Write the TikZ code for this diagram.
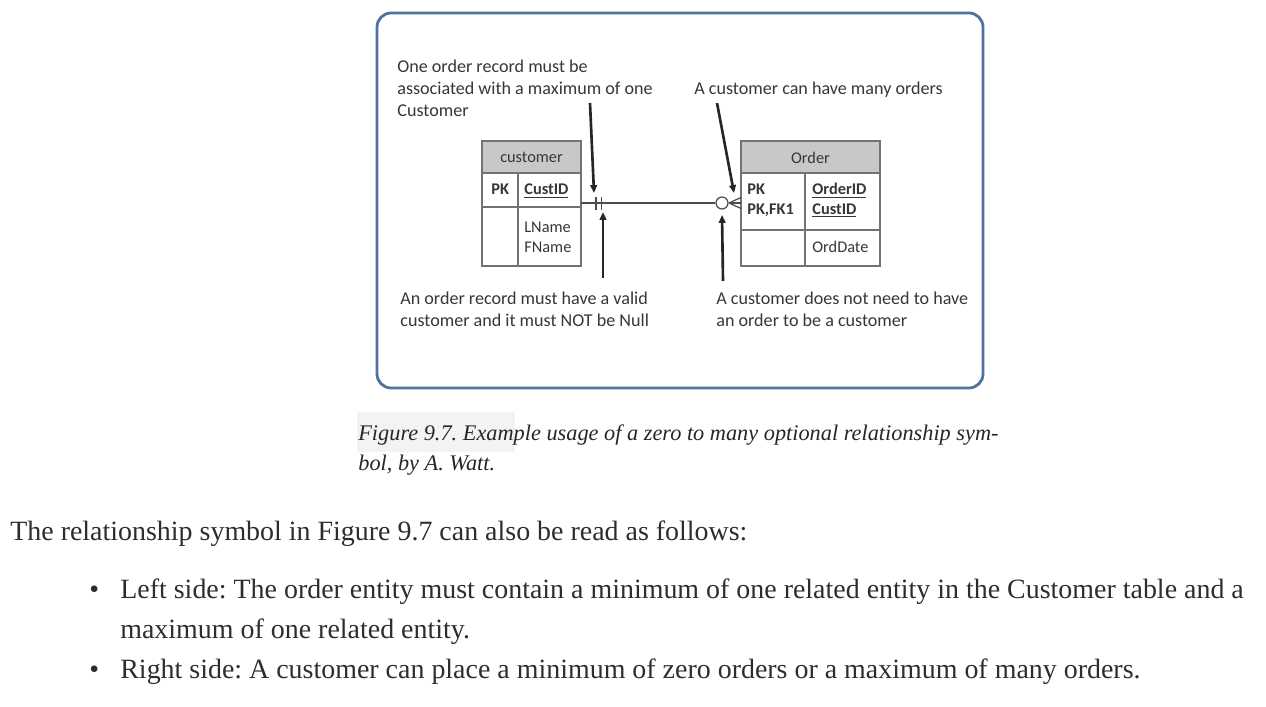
\documentclass[tikz,border=0pt]{standalone}
\usepackage{fontspec}
\setmainfont{Liberation Serif}
\newfontfamily\diagfont{Carlito}
\usetikzlibrary{arrows.meta, positioning}
\definecolor{frameblue}{RGB}{80,114,158}
\definecolor{headgray}{RGB}{200,200,200}
\definecolor{notegray}{RGB}{55,55,55}
\definecolor{capshade}{RGB}{242,243,245}
\definecolor{bodygray}{RGB}{45,45,45}
\frenchspacing

\begin{document}
\begin{tikzpicture}[x=0.02cm, y=-0.02cm,
    note/.style={font=\diagfont\fontsize{10.3}{12.5}\selectfont, text=notegray, anchor=north west, align=left, inner sep=0pt},
    cell/.style={font=\diagfont\fontsize{9.3}{11}\selectfont, text=notegray, inner sep=0pt},
    keycell/.style={cell, font=\diagfont\bfseries\fontsize{9.3}{11}\selectfont},
    tblline/.style={draw=black!55, line width=0.7pt},
    pointer/.style={black!85, line width=1.5pt, -{Triangle[length=4.5pt,width=3.8pt]}},
    relline/.style={black!70, line width=0.7pt},
    bodytext/.style={font=\fontsize{15.9}{22.7}\selectfont, text=bodygray, anchor=base west, align=left, inner sep=0pt}
  ]

  \useasboundingbox (0,0) rectangle (1266,706);

  % figure frame
  \draw[frameblue, line width=1.6pt, rounded corners=8pt, fill=white] (377,13) rectangle (983,388);

  % annotations
  \node[note] (oneMax) at (397,60) {One order record must be\\associated with a maximum of one\\Customer};
  \node[note] (manyOrd) at (694,82) {A customer can have many orders};
  \node[note] (notNull) at (400,292) {An order record must have a valid\\customer and it must NOT be Null};
  \node[note] (zeroOrd) at (716,292) {A customer does not need to have\\an order to be a customer};

  % customer table
  \fill[headgray] (482,141) rectangle (581,173);
  \draw[tblline] (482,141) rectangle (581,266);
  \draw[tblline] (482,173) -- (581,173);
  \draw[tblline] (482,207) -- (581,207);
  \draw[tblline] (518,173) -- (518,266);
  \node[cell] (custHead) at (531.5,157.5) {customer};
  \node[keycell, anchor=base west] (custPK) at (491,194.5) {PK};
  \node[keycell, anchor=base west] (custID) at (524,194.5) {\underline{CustID}};
  \node[cell, anchor=base west, align=left] (custAttr) at (524,252) {LName\\FName};

  % order table
  \fill[headgray] (741,141) rectangle (880,173);
  \draw[tblline] (741,141) rectangle (880,266);
  \draw[tblline] (741,173) -- (880,173);
  \draw[tblline] (741,230) -- (880,230);
  \draw[tblline] (805,173) -- (805,266);
  \node[cell] (ordHead) at (810.5,157.5) {Order};
  \node[keycell, anchor=base west, align=left] (ordPK) at (747,214) {PK\\PK,FK1};
  \node[keycell, anchor=base west, align=left] (ordID) at (812,214) {\underline{OrderID}\\\underline{CustID}};
  \node[cell, anchor=base west] (ordDate) at (812,252) {OrdDate};

  % relationship: one and only one ... zero or many
  \coordinate (custR) at (581,203);
  \coordinate (ordL) at (741,203);
  \node[circle, draw=black!70, line width=0.7pt, fill=white, minimum size=0.24cm, inner sep=0pt] (zeroMark) at (722,203) {};
  \draw[relline] (custR) -- (zeroMark);
  \draw[relline] (596,197) -- (596,210);
  \draw[relline] (601.5,197) -- (601.5,210);
  \coordinate (footTip) at (729,203);
  \draw[relline] (footTip) -- (741,197.5);
  \draw[relline] (footTip) -- (ordL);
  \draw[relline] (footTip) -- (741,208.5);

  % pointers from annotations
  \coordinate (p1s) at (590,103);
  \coordinate (p1e) at (594,193);
  \coordinate (p2s) at (603,278);
  \coordinate (p2e) at (603,212);
  \coordinate (p3s) at (717,103);
  \coordinate (p3e) at (734,193);
  \coordinate (p4s) at (723,281);
  \coordinate (p4e) at (722,215);
  \draw[pointer] (p1s) -- (p1e);
  \draw[pointer] (p2s) -- (p2e);
  \draw[pointer] (p3s) -- (p3e);
  \draw[pointer] (p4s) -- (p4e);

  % caption
  \fill[capshade] (357,412) rectangle (515,452);
  \node[font=\itshape\fontsize{12.7}{17}\selectfont, text=black!85, anchor=base west, align=left, inner sep=0pt] (caption) at (358,470)
    {Figure 9.7. Example usage of a zero to many optional relationship sym-\\bol, by A. Watt.};

  % body text
  \node[bodytext] (intro) at (10,540) {The relationship symbol in Figure 9.7 can also be read as follows:};
  \node[bodytext] (bulA) at (89,598) {\textbullet};
  \node[bodytext] (leftSide) at (120,638) {Left side: The order entity must contain a minimum of one related entity in the Customer table and a\\maximum of one related entity.};
  \node[bodytext] (bulB) at (89,678) {\textbullet};
  \node[bodytext] (rightSide) at (120,678) {Right side: A customer can place a minimum of zero orders or a maximum of many orders.};

\end{tikzpicture}
\end{document}
